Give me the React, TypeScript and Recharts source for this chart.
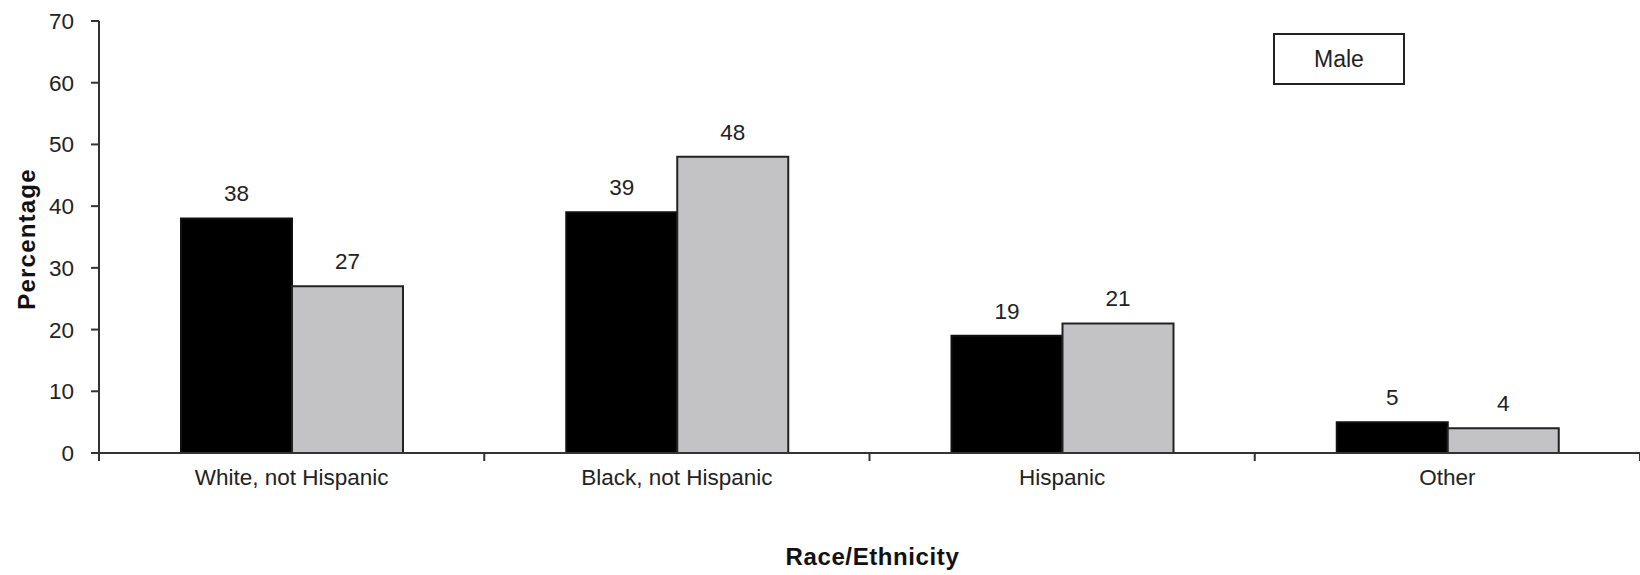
import React from 'react';
import { BarChart, Bar, XAxis, YAxis, LabelList } from 'recharts';

// Percentages by race/ethnicity, two series per group
const categories = ['White, not Hispanic', 'Black, not Hispanic', 'Hispanic', 'Other'];
const darkSeries = [38, 39, 19, 5];
const lightSeries = [27, 48, 21, 4];
const yTicks = [0, 10, 20, 30, 40, 50, 60, 70];
const panelTitle = 'Male';
const xAxisTitle = 'Race/Ethnicity';
const yAxisTitle = 'Percentage';

const data = categories.map((name, i) => ({
  name,
  dark: darkSeries[i],
  light: lightSeries[i],
}));

const CHART_W = 1640;
const CHART_H = 575;
const MARGIN = { top: 21, right: 0, bottom: 0, left: 0 };
const Y_AXIS_W = 99;
const X_AXIS_H = 122;
const X_TICK_SIZE = 8;
const X_TICK_MARGIN = 8;
const FONT = '"Liberation Sans", Arial, sans-serif';
const INK = '#222';
const AXIS = '#333';

const bandWidth = (CHART_W - MARGIN.left - MARGIN.right - Y_AXIS_W) / categories.length;

// Category label at the band centre, tick mark at the band's left edge
const CategoryTick = (props: any) => {
  const { x, y, payload, index } = props;
  const half = typeof payload?.offset === 'number' && payload.offset > 0 ? payload.offset : bandWidth / 2;
  const axisY = y - X_TICK_SIZE - X_TICK_MARGIN;
  const isLast = index === categories.length - 1;
  return (
    <g>
      <line x1={x - half} x2={x - half} y1={axisY} y2={axisY + X_TICK_SIZE} stroke={AXIS} strokeWidth={2} />
      {isLast && (
        <line x1={x + half} x2={x + half} y1={axisY} y2={axisY + X_TICK_SIZE} stroke={AXIS} strokeWidth={2} />
      )}
      <text x={x} y={y} dy="0.71em" textAnchor="middle" fontFamily={FONT} fontSize={22.5} fill={INK}>
        {payload.value}
      </text>
    </g>
  );
};

const XTitle = (props: any) => {
  const vb = props.viewBox || { x: 0, y: 0, width: 0, height: 0 };
  return (
    <text
      x={vb.x + vb.width / 2 + 3}
      y={vb.y + vb.height - 10}
      textAnchor="middle"
      fontFamily={FONT}
      fontWeight="bold"
      fontSize={24}
      letterSpacing={0.6}
      fill="#111"
    >
      {xAxisTitle}
    </text>
  );
};

const YTitle = (props: any) => {
  const vb = props.viewBox || { x: 0, y: 0, width: 0, height: 0 };
  const cx = vb.x + 26;
  const cy = vb.y + vb.height / 2 + 2;
  return (
    <text
      x={cx}
      y={cy}
      transform={`rotate(-90, ${cx}, ${cy})`}
      textAnchor="middle"
      dominantBaseline="central"
      fontFamily={FONT}
      fontWeight="bold"
      fontSize={24}
      letterSpacing={1.2}
      fill="#111"
    >
      {yAxisTitle}
    </text>
  );
};

export default function App() {
  return (
    <div style={{ position: 'absolute', left: 0, top: 0, width: CHART_W, height: CHART_H, background: '#fff' }}>
      <BarChart width={CHART_W} height={CHART_H} data={data} margin={MARGIN} barGap={0} barSize={111}>
        <XAxis
          dataKey="name"
          height={X_AXIS_H}
          tickSize={X_TICK_SIZE}
          tickMargin={X_TICK_MARGIN}
          tickLine={false}
          axisLine={{ stroke: AXIS, strokeWidth: 2 }}
          tick={<CategoryTick />}
          interval={0}
          label={<XTitle />}
        />
        <YAxis
          width={Y_AXIS_W}
          domain={[0, 70]}
          ticks={yTicks}
          interval={0}
          tickSize={8}
          tickMargin={17}
          axisLine={{ stroke: AXIS, strokeWidth: 2 }}
          tickLine={{ stroke: AXIS, strokeWidth: 2 }}
          tick={{ fontFamily: FONT, fontSize: 22.5, fill: INK }}
          label={<YTitle />}
        />
        <Bar dataKey="dark" fill="#000" stroke="#111" strokeWidth={2} isAnimationActive={false}>
          <LabelList dataKey="dark" position="top" offset={17} fill={INK} fontFamily={FONT} fontSize={22.5} />
        </Bar>
        <Bar dataKey="light" fill="#c3c2c5" stroke="#222" strokeWidth={2} isAnimationActive={false}>
          <LabelList dataKey="light" position="top" offset={17} fill={INK} fontFamily={FONT} fontSize={22.5} />
        </Bar>
      </BarChart>
      <div
        style={{
          position: 'absolute',
          left: 1273,
          top: 33,
          width: 132,
          height: 52,
          boxSizing: 'border-box',
          border: '2px solid #222',
          background: '#fff',
          display: 'flex',
          alignItems: 'center',
          justifyContent: 'center',
          fontFamily: FONT,
          fontSize: 23,
          color: INK,
        }}
      >
        {panelTitle}
      </div>
    </div>
  );
}
